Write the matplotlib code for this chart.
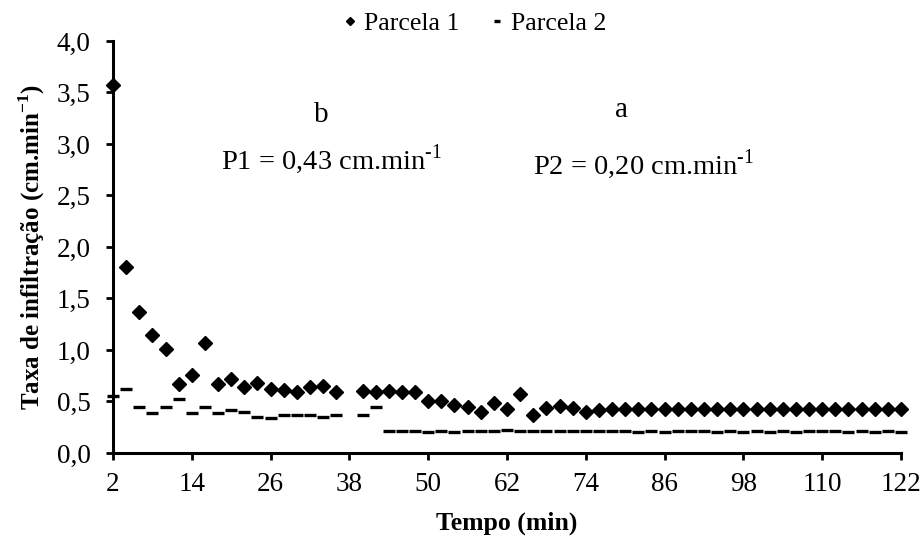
import matplotlib
matplotlib.use("Agg")
import matplotlib.pyplot as plt
from matplotlib.ticker import FuncFormatter, MultipleLocator

plt.rcParams["font.family"] = ["Liberation Serif", "DejaVu Serif"]
plt.rcParams["mathtext.fontset"] = "custom"
plt.rcParams["mathtext.rm"] = "Liberation Serif"
plt.rcParams["mathtext.bf"] = "Liberation Serif:bold"

# time (min); the 38 min reading is missing
tempo = [2, 4, 6, 8, 10, 12, 14, 16, 18, 20, 22, 24, 26, 28, 30, 32, 34, 36,
         40, 42, 44, 46, 48, 50, 52, 54, 56, 58, 60, 62, 64, 66, 68, 70, 72, 74, 76, 78,
         80, 82, 84, 86, 88, 90, 92, 94, 96, 98, 100, 102, 104, 106, 108, 110,
         112, 114, 116, 118, 120, 122]

parcela1 = [3.57, 1.81, 1.37, 1.15, 1.01, 0.67, 0.76, 1.07, 0.67, 0.72, 0.64, 0.68,
            0.62, 0.61, 0.59, 0.64, 0.65, 0.59,
            0.60, 0.59, 0.60, 0.59, 0.59, 0.50, 0.50, 0.47, 0.45, 0.40, 0.49, 0.43,
            0.57, 0.37, 0.44, 0.46, 0.44, 0.40, 0.42, 0.43,
            0.43, 0.43, 0.43, 0.43, 0.43, 0.43, 0.43, 0.43, 0.43, 0.43, 0.43,
            0.43, 0.43, 0.43, 0.43, 0.43, 0.43, 0.43, 0.43, 0.43, 0.43, 0.43]

parcela2 = [0.55, 0.62, 0.45, 0.39, 0.45, 0.52, 0.39, 0.45, 0.39, 0.42, 0.40, 0.35,
            0.34, 0.37, 0.37, 0.37, 0.35, 0.37,
            0.37, 0.45, 0.21, 0.21, 0.21, 0.20, 0.21, 0.20, 0.21, 0.21, 0.21, 0.22,
            0.21, 0.21, 0.21, 0.21, 0.21, 0.21, 0.21, 0.21,
            0.21, 0.20, 0.21, 0.20, 0.21, 0.21, 0.21, 0.20, 0.21, 0.20, 0.21,
            0.20, 0.21, 0.20, 0.21, 0.21, 0.21, 0.20, 0.21, 0.20, 0.21, 0.20]

fig = plt.figure(figsize=(9.24, 5.38), dpi=100)
ax = fig.add_axes([0.1223, 0.158, 0.8528, 0.7658])

ax.plot(tempo, parcela1, "D", color="black", ms=7, ls="none", label="Parcela 1", clip_on=False)
ax.plot(tempo, parcela2, "_", color="black", ms=8, mew=2.4, ls="none", label="Parcela 2", clip_on=False)

ax.set_xlim(2, 122)
ax.set_ylim(0, 4)
ax.set_xticks([2, 14, 26, 38, 50, 62, 74, 86, 98, 110, 122])
ax.yaxis.set_major_locator(MultipleLocator(0.5))
ax.yaxis.set_major_formatter(FuncFormatter(lambda v, p: f"{v:.1f}".replace(".", ",")))

for s in ["top", "right"]:
    ax.spines[s].set_visible(False)
for s in ["left", "bottom"]:
    ax.spines[s].set_linewidth(2.2)
ax.tick_params(direction="out", length=5, width=2, labelsize=19.5)
ax.tick_params(axis="x", pad=9)
ax.tick_params(axis="y", pad=11)

ax.set_xlabel("Tempo (min)", fontsize=18.5, fontweight="bold", labelpad=10)
ax.set_ylabel(r"Taxa de infiltração (cm.min$^{\mathbf{-1}}$)", fontsize=18, fontweight="bold", labelpad=7)

ax.text(33.7, 3.28, "b", fontsize=21, ha="center", va="center")
ax.text(35.3, 2.85, r"P1 = 0,43 cm.min$^{\text{-}1}$", fontsize=20.5, ha="center", va="center")
ax.text(79.4, 3.33, "a", fontsize=21, ha="center", va="center")
ax.text(82.8, 2.80, r"P2 = 0,20 cm.min$^{\text{-}1}$", fontsize=20.5, ha="center", va="center")

fig.legend(loc="center", bbox_to_anchor=(0.514, 0.957), ncol=2, frameon=False,
           fontsize=18.5, markerscale=0.6, handlelength=0.5, handletextpad=0.3, columnspacing=1.2)

fig.savefig("out.png", dpi=100)
